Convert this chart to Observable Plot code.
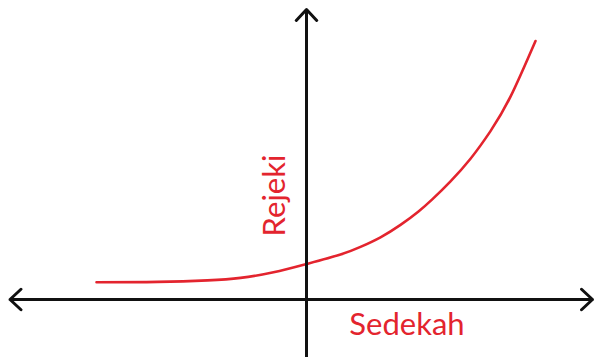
<!DOCTYPE html>
<html>
<head>
<meta charset="utf-8">
<script src="https://cdn.jsdelivr.net/npm/d3@7"></script>
<script src="https://cdn.jsdelivr.net/npm/@observablehq/plot@0.6"></script>
<style>
  html, body { margin: 0; padding: 0; background: #fff; }
  #chart svg { display: block; }
</style>
</head>
<body>
<div id="chart"></div>
<script>
// Curve (x = Sedekah, y = Rejeki)
const sedekah = [-21, -14.9, -9.9, -6.6, -3.3, 0, 3.4, 5.4, 7.4, 9.4, 11.2, 12.6, 14.4, 16.4, 18.4, 20.4, 22.9];
const rejeki  = [1.73, 1.76, 1.91, 2.16, 2.72, 3.55, 4.5, 5.26, 6.22, 7.46, 8.81, 10.04, 11.82, 14.08, 16.84, 20.28, 25.85];

// Axis extents
const xAxisLeft = -29.65, xAxisRight = 28.6;
const yAxisBottom = -5.8, yAxisTop = 29.0;

// Axis titles
const axisLabels = ["Rejeki", "Sedekah"];
const labelX = [-3.1, 10.05];
const labelY = [10.4, -2.6];
const labelRotate = [-90, 0];

const curve = sedekah.map((x, i) => ({x, y: rejeki[i]}));
const arrows = [
  {x1: 0, y1: 0, x2: xAxisLeft, y2: 0},
  {x1: 0, y1: 0, x2: xAxisRight, y2: 0},
  {x1: 0, y1: yAxisBottom, x2: 0, y2: yAxisTop}
];
const labels = axisLabels.map((t, i) => ({t, x: labelX[i], y: labelY[i], r: labelRotate[i]}));

const red = "#e3242e";
const black = "#111";

const chart = Plot.plot({
  width: 596,
  height: 357,
  margin: 0,
  x: {domain: [-30.6, 29], axis: null},
  y: {domain: [-5.8, 29.9], axis: null},
  style: {background: "#fff"},
  marks: [
    Plot.line(curve, {x: "x", y: "y", stroke: red, strokeWidth: 2.6, curve: "natural"}),
    Plot.arrow(arrows, {x1: "x1", y1: "y1", x2: "x2", y2: "y2", stroke: black, strokeWidth: 3, headLength: 7.5, headAngle: 86}),
    Plot.text(labels.filter(d => d.r === -90), {x: "x", y: "y", text: "t", rotate: -90, fill: red, fontSize: 31, fontFamily: "Lato", textAnchor: "middle"}),
    Plot.text(labels.filter(d => d.r === 0), {x: "x", y: "y", text: "t", fill: red, fontSize: 31, fontFamily: "Lato", textAnchor: "middle"})
  ]
});
document.getElementById("chart").appendChild(chart);
</script>
</body>
</html>
